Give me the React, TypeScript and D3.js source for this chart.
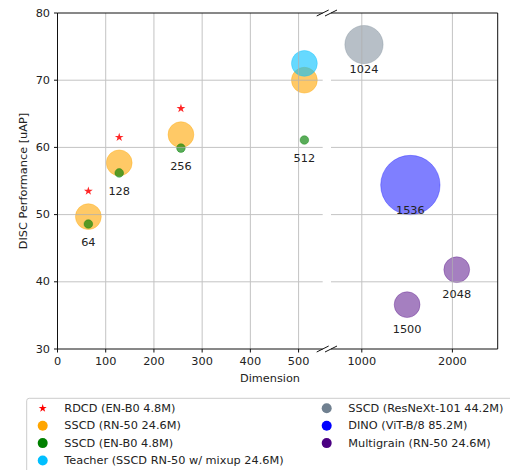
import * as d3 from "d3";
import { useEffect, useRef } from "react";

// values (dimension, DISC uAP)
const rdcdDims = [64, 128, 256];
const rdcdUap = [53.5, 61.5, 65.8];
const sscdRn50Dims = [64, 128, 256, 512];
const sscdRn50Uap = [49.7, 57.7, 61.9, 70.0];
const sscdEnb0Dims = [64, 128, 256, 512];
const sscdEnb0Uap = [48.6, 56.2, 59.9, 61.1];
const teacherDims = [512];
const teacherUap = [72.5];
const resnextDims = [1024];
const resnextUap = [75.3];
const dinoDims = [1536];
const dinoUap = [54.4];
const multigrainDims = [1500, 2048];
const multigrainUap = [36.6, 41.8];

const leftTicks = [0, 100, 200, 300, 400, 500];
const rightTicks = [1000, 2000];
const yTicks = [30, 40, 50, 60, 70, 80];

type Series = {
  name: string;
  dims: number[];
  uap: number[];
  params: number;
  color: string;
  alpha: number;
  star?: boolean;
};

const series: Series[] = [
  { name: "RDCD (EN-B0 4.8M)", dims: rdcdDims, uap: rdcdUap, params: 4.8, color: "red", alpha: 0.85, star: true },
  { name: "SSCD (RN-50 24.6M)", dims: sscdRn50Dims, uap: sscdRn50Uap, params: 24.6, color: "orange", alpha: 0.6 },
  { name: "SSCD (EN-B0 4.8M)", dims: sscdEnb0Dims, uap: sscdEnb0Uap, params: 4.8, color: "green", alpha: 0.65 },
  { name: "Teacher (SSCD RN-50 w/ mixup 24.6M)", dims: teacherDims, uap: teacherUap, params: 24.6, color: "deepskyblue", alpha: 0.6 },
  { name: "SSCD (ResNeXt-101 44.2M)", dims: resnextDims, uap: resnextUap, params: 44.2, color: "slategray", alpha: 0.5 },
  { name: "DINO (ViT-B/8 85.2M)", dims: dinoDims, uap: dinoUap, params: 85.2, color: "blue", alpha: 0.5 },
  { name: "Multigrain (RN-50 24.6M)", dims: multigrainDims, uap: multigrainUap, params: 24.6, color: "indigo", alpha: 0.5 },
];

const BREAK = 600;
const FONT = "DejaVu Sans, sans-serif";
const FS = 11.3;
const TEXT = "#222";
const GRID = "#b0b0b0";

export default function App() {
  const ref = useRef<SVGSVGElement>(null);

  useEffect(() => {
    if (!ref.current) return;
    const svg = d3.select(ref.current);
    svg.selectAll("*").remove();

    const top = 13;
    const bottom = 349;
    const y = d3.scaleLinear().domain([30, 80]).range([bottom, top]);
    const xL = d3.scaleLinear().domain([0, 550]).range([57.5, 322.7]);
    const xR = d3.scaleLinear().domain([660, 2500]).range([331, 497.7]);
    const xOf = (d: number) => (d < BREAK ? xL(d) : xR(d));
    const r = d3.scalePow().exponent(0.67).domain([0, 85.2]).range([0, 29.7]);

    // scatter bubbles
    const circles = svg.append("g");
    series
      .filter((s) => !s.star)
      .forEach((s) => {
        circles
          .selectAll(null)
          .data(s.dims.map((d, i) => ({ d, v: s.uap[i] })))
          .enter()
          .append("circle")
          .attr("cx", (p) => xOf(p.d))
          .attr("cy", (p) => y(p.v))
          .attr("r", r(s.params))
          .attr("fill", s.color)
          .attr("fill-opacity", s.alpha)
          .attr("stroke", s.color)
          .attr("stroke-opacity", s.alpha * 0.6)
          .attr("stroke-width", 1);
      });

    // grid (drawn over the collections, as matplotlib does)
    const grid = svg.append("g").attr("stroke", GRID).attr("stroke-width", 1).attr("opacity", 0.75);
    const innerY = yTicks.slice(1, -1);
    [[57.5, 322.7], [331, 497.7]].forEach(([x0, x1]) => {
      grid
        .selectAll(null)
        .data(innerY)
        .enter()
        .append("line")
        .attr("x1", x0)
        .attr("x2", x1)
        .attr("y1", (v) => y(v))
        .attr("y2", (v) => y(v));
    });
    grid
      .selectAll(null)
      .data(leftTicks.slice(1))
      .enter()
      .append("line")
      .attr("x1", (d) => xL(d))
      .attr("x2", (d) => xL(d))
      .attr("y1", top)
      .attr("y2", bottom);
    grid
      .selectAll(null)
      .data(rightTicks)
      .enter()
      .append("line")
      .attr("x1", (d) => xR(d))
      .attr("x2", (d) => xR(d))
      .attr("y1", top)
      .attr("y2", bottom);

    // stars
    const star = d3.symbol().type(d3.symbolStar).size(24);
    series
      .filter((s) => s.star)
      .forEach((s) => {
        svg
          .append("g")
          .selectAll("path")
          .data(s.dims.map((d, i) => ({ d, v: s.uap[i] })))
          .enter()
          .append("path")
          .attr("d", star)
          .attr("transform", (p) => `translate(${xOf(p.d)},${y(p.v)})`)
          .attr("fill", s.color)
          .attr("opacity", s.alpha);
      });

    // dimension labels under the lowest bubble at each dimension
    const lowest = new Map<number, number>();
    series
      .filter((s) => !s.star)
      .forEach((s) =>
        s.dims.forEach((d, i) => {
          const v = s.uap[i];
          if (!lowest.has(d) || v < (lowest.get(d) as number)) lowest.set(d, v);
        })
      );
    svg
      .append("g")
      .selectAll("text")
      .data(Array.from(lowest.entries()))
      .enter()
      .append("text")
      .attr("x", ([d]) => xOf(d))
      .attr("y", ([d, v]) => y(v - (d < BREAK ? 2.75 : 3.75)))
      .attr("text-anchor", "middle")
      .attr("dominant-baseline", "central")
      .attr("font-family", FONT)
      .attr("font-size", FS)
      .attr("fill", TEXT)
      .text(([d]) => String(d));

    // spines
    const spines = svg.append("g").attr("stroke", "#111").attr("stroke-width", 1).attr("fill", "none");
    spines.append("path").attr("d", `M322.7,${top}H57.5V${bottom}H322.7`);
    spines.append("path").attr("d", `M331,${top}H497.7V${bottom}H331`);

    // break marks
    [322.7, 331].forEach((cx) =>
      [top, bottom].forEach((cy) =>
        spines
          .append("line")
          .attr("x1", cx - 6)
          .attr("y1", cy + 3)
          .attr("x2", cx + 6)
          .attr("y2", cy - 3)
      )
    );

    // ticks
    const ticks = svg.append("g").attr("stroke", "#111").attr("stroke-width", 1);
    ticks
      .selectAll(null)
      .data(yTicks)
      .enter()
      .append("line")
      .attr("x1", 54)
      .attr("x2", 57.5)
      .attr("y1", (v) => y(v))
      .attr("y2", (v) => y(v));
    const xTicks = [
      ...leftTicks.map((d) => ({ d, x: xL(d) })),
      ...rightTicks.map((d) => ({ d, x: xR(d) })),
    ];
    ticks
      .selectAll(null)
      .data(xTicks)
      .enter()
      .append("line")
      .attr("x1", (t) => t.x)
      .attr("x2", (t) => t.x)
      .attr("y1", bottom)
      .attr("y2", bottom + 3.5);

    const labels = svg
      .append("g")
      .attr("font-family", FONT)
      .attr("font-size", FS)
      .attr("fill", TEXT);
    labels
      .selectAll(null)
      .data(yTicks)
      .enter()
      .append("text")
      .attr("x", 50)
      .attr("y", (v) => y(v))
      .attr("text-anchor", "end")
      .attr("dominant-baseline", "central")
      .text((v) => String(v));
    labels
      .selectAll(null)
      .data(xTicks)
      .enter()
      .append("text")
      .attr("x", (t) => t.x)
      .attr("y", bottom + 12.7)
      .attr("text-anchor", "middle")
      .attr("dominant-baseline", "central")
      .text((t) => String(t.d));
    labels
      .append("text")
      .attr("x", 270)
      .attr("y", 378.5)
      .attr("text-anchor", "middle")
      .attr("dominant-baseline", "central")
      .text("Dimension");
    labels
      .append("text")
      .attr("transform", `translate(23,${(top + bottom) / 2}) rotate(-90)`)
      .attr("text-anchor", "middle")
      .attr("dominant-baseline", "central")
      .text("DISC Performance [uAP]");

    // legend
    const legend = svg.append("g").attr("font-family", FONT).attr("font-size", FS);
    legend
      .append("rect")
      .attr("x", 26.7)
      .attr("y", 398.3)
      .attr("width", 500)
      .attr("height", 90)
      .attr("rx", 2.5)
      .attr("fill", "white")
      .attr("stroke", "#cccccc")
      .attr("stroke-width", 1);
    const legendStar = d3.symbol().type(d3.symbolStar).size(20);
    series.forEach((s, i) => {
      const col = i < 4 ? 0 : 1;
      const row = col === 0 ? i : i - 4;
      const mx = col === 0 ? 42.7 : 326.7;
      const cy = 408.3 + row * 17.4;
      if (s.star) {
        legend
          .append("path")
          .attr("d", legendStar)
          .attr("transform", `translate(${mx},${cy})`)
          .attr("fill", s.color);
      } else {
        legend.append("circle").attr("cx", mx).attr("cy", cy).attr("r", 5).attr("fill", s.color);
      }
      legend
        .append("text")
        .attr("x", mx + 21.6)
        .attr("y", cy)
        .attr("dominant-baseline", "central")
        .attr("fill", TEXT)
        .text(s.name);
    });
  }, []);

  return (
    <svg
      ref={ref}
      width={510}
      height={470}
      style={{ position: "absolute", left: 0, top: 0, background: "white" }}
    />
  );
}
